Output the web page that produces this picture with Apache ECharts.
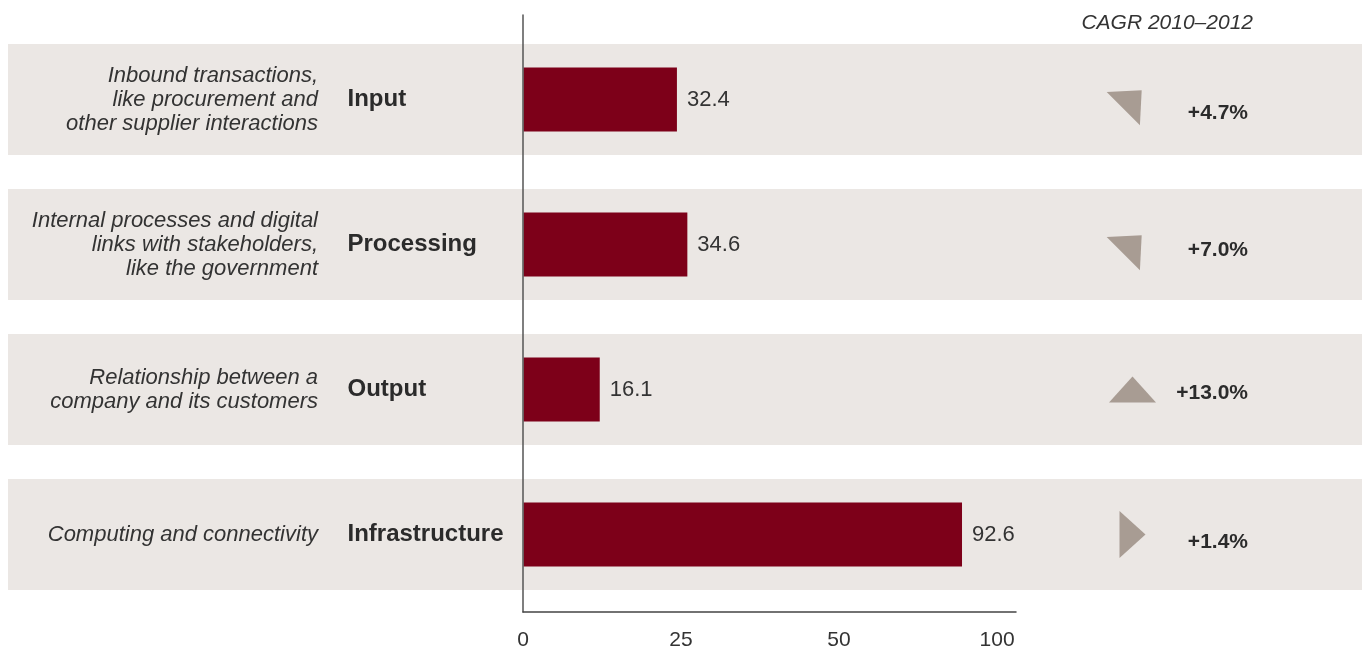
<!DOCTYPE html>
<html>
<head>
<meta charset="utf-8">
<script src="https://cdn.jsdelivr.net/npm/echarts@6/dist/echarts.min.js"></script>
<style>
  html, body { margin: 0; padding: 0; background: #ffffff; }
  #chart { width: 1363px; height: 651px; }
</style>
</head>
<body>
<div id="chart"></div>
<script>
// Value chain segments
const categories = ['Input', 'Processing', 'Output', 'Infrastructure'];
const descriptions = [
  'Inbound transactions,\nlike procurement and\nother supplier interactions',
  'Internal processes and digital\nlinks with stakeholders,\nlike the government',
  'Relationship between a\ncompany and its customers',
  'Computing and connectivity'
];
// Segment size
const values = [32.4, 34.6, 16.1, 92.6];
// Compound annual growth, 2010–2012 (%)
const cagr = [4.7, 7.0, 13.0, 1.4];
// Direction of the growth arrow, degrees from horizontal
const cagrArrowDir = [45, 45, 90, 0];
// Axis tick labels, spread evenly from 0 to 100
const tickLabels = ['0', '25', '50', '100'];

const FONT = '"Liberation Sans", Arial, Helvetica, sans-serif';
const BAR_COLOR = '#7d0019';
const BAND_COLOR = '#ebe7e4';
const ARROW_COLOR = '#a89c93';
const TEXT = '#2b2b2b';

const AXIS_MAX = 104;
const tickStep = 100 / (tickLabels.length - 1);
const tickValues = tickLabels.map((_, i) => i * tickStep);
const ARROW_X = 0.8305;               // horizontal slot of the growth arrows inside the row band
const CAGR_LABEL_DROP = [14, 6, 4, 8]; // small downward nudge of each growth label (px)

// one rich style per row so each growth label can sit at its own height
const cagrRich = {};
CAGR_LABEL_DROP.forEach((d, i) => {
  cagrRich['r' + i] = {
    fontFamily: FONT, fontWeight: 'bold', fontSize: 21, color: TEXT,
    padding: [d * 2, 0, 0, 0]
  };
});

const chart = echarts.init(document.getElementById('chart'), null, { renderer: 'canvas' });

const option = {
  animation: false,
  backgroundColor: '#ffffff',
  textStyle: { fontFamily: FONT },
  title: {
    text: 'CAGR 2010\u20132012',
    right: 110,
    top: 13,
    padding: 0,
    textStyle: { fontFamily: FONT, fontStyle: 'italic', fontWeight: 'normal', fontSize: 21, color: '#333' }
  },
  grid: [
    // 0: bars
    { left: 523.5, top: 27, width: 492.5, height: 580, containLabel: false },
    // 1: axis frame
    { left: 523, top: 15, width: 493, height: 597, containLabel: false },
    // 2: full-width row bands and arrows
    { left: 8, top: 27, width: 1354, height: 580, containLabel: false }
  ],
  xAxis: [
    { gridIndex: 0, type: 'value', min: 0, max: AXIS_MAX, show: false },
    {
      gridIndex: 1, type: 'value', min: 0, max: AXIS_MAX, z: 5,
      axisLine: { show: true, lineStyle: { color: '#444', width: 1.5 } },
      axisTick: { show: false },
      splitLine: { show: false },
      axisLabel: {
        customValues: tickValues,
        margin: 18,
        fontFamily: FONT, fontSize: 21, color: '#333',
        formatter: (v) => tickLabels[Math.round(v / tickStep)]
      }
    },
    { gridIndex: 2, type: 'value', min: 0, max: 1, show: false }
  ],
  yAxis: [
    {
      gridIndex: 0, type: 'category', data: categories, inverse: true,
      axisLine: { show: false }, axisTick: { show: false },
      axisLabel: {
        align: 'left', margin: 176,
        fontFamily: FONT, fontWeight: 'bold', fontSize: 24, color: TEXT
      }
    },
    {
      gridIndex: 0, type: 'category', data: categories, inverse: true, position: 'right',
      axisLine: { show: false }, axisTick: { show: false },
      axisLabel: {
        align: 'right', margin: 232,
        formatter: (v, i) => '{r' + i + '|+' + cagr[i].toFixed(1) + '%}',
        rich: cagrRich
      }
    },
    {
      gridIndex: 1, type: 'value', min: 0, max: 1, z: 5,
      axisLine: { show: true, lineStyle: { color: '#555', width: 1.5 } },
      axisTick: { show: false }, axisLabel: { show: false }, splitLine: { show: false }
    },
    { gridIndex: 2, type: 'category', data: categories, inverse: true, show: false }
  ],
  series: [
    {
      name: 'band',
      type: 'bar',
      xAxisIndex: 2, yAxisIndex: 3,
      data: categories.map(() => 1),
      barWidth: 111,
      silent: true,
      z: 0,
      itemStyle: { color: BAND_COLOR },
      label: {
        show: true,
        position: [310, '50%'],
        align: 'right',
        verticalAlign: 'middle',
        formatter: (p) => descriptions[p.dataIndex],
        fontFamily: FONT, fontStyle: 'italic', fontSize: 22, lineHeight: 24, color: '#333'
      }
    },
    {
      name: 'CAGR arrow',
      type: 'scatter',
      xAxisIndex: 2, yAxisIndex: 3,
      data: categories.map((c, i) => ({
        value: [ARROW_X, c],
        symbolRotate: cagrArrowDir[i] - 90
      })),
      symbol: 'triangle',
      symbolSize: [47, 26],
      silent: true,
      z: 3,
      itemStyle: { color: ARROW_COLOR, opacity: 1 }
    },
    {
      name: 'Size',
      type: 'bar',
      xAxisIndex: 0, yAxisIndex: 0,
      data: values,
      barWidth: 64,
      silent: true,
      z: 4,
      itemStyle: { color: BAR_COLOR },
      label: {
        show: true,
        position: 'right',
        distance: 10,
        formatter: (p) => p.value.toFixed(1),
        fontFamily: FONT, fontSize: 22, color: '#333'
      }
    }
  ]
};

chart.setOption(option);
</script>
</body>
</html>
